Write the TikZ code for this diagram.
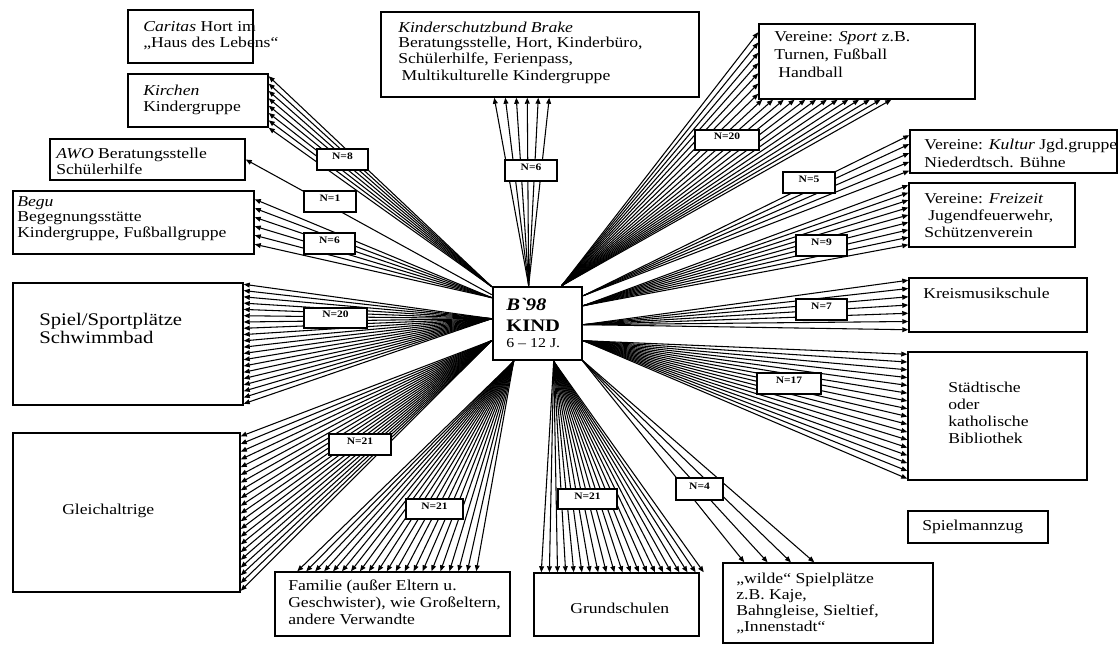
\documentclass[tikz,border=0pt]{standalone}
\usepackage{fontspec}
\setmainfont{Liberation Serif}[FakeStretch=1.17]
\usetikzlibrary{arrows.meta,fit,calc,backgrounds}
\tikzset{
  box/.style={draw, line width=1.1pt, fill=white, inner sep=0pt},
  txt/.style={inner sep=0pt, align=left, anchor=base west, font=\fontsize{11.3}{11.6}\selectfont},
  nlab/.style={draw, line width=1pt, fill=white, inner sep=0pt, font=\bfseries\fontsize{7.4}{8}\selectfont},
  ray/.style={line width=0.8pt, -{Triangle[length=4.5pt,width=3.6pt]}},
}
\newcommand\rayfan[4]{%
  \pgfmathtruncatemacro\fanlast{#4-1}%
  \foreach \i in {0,...,\fanlast}{%
    \pgfmathsetmacro\fant{\i/\fanlast}%
    \draw[ray] (#1) -- ($(#2)!\fant!(#3)$);
  }%
}
\begin{document}
\begin{tikzpicture}[x=0.75pt,y=-0.75pt]
\useasboundingbox (0,0) rectangle (1119,644);
% boxes
\node[box, fit={(493,287) (582,360)}, line width=2pt] (kind) {};
\node[box, fit={(128,10) (253,63)}] (caritas) {};
\node[box, fit={(128,74) (268,127)}] (kirchen) {};
\node[box, fit={(50,139) (245,180)}] (awo) {};
\node[box, fit={(13,191) (254,254)}] (begu) {};
\node[box, fit={(13,283) (243,405)}] (spiel) {};
\node[box, fit={(13,433) (240,592)}] (gleich) {};
\node[box, fit={(275,572) (510,636)}] (familie) {};
\node[box, fit={(534,573) (699,636)}] (grund) {};
\node[box, fit={(723,563) (933,643)}] (wilde) {};
\node[box, fit={(908,511) (1048,543)}] (spielm) {};
\node[box, fit={(908,352) (1087,480)}] (biblio) {};
\node[box, fit={(909,278) (1087,332)}] (kreis) {};
\node[box, fit={(909,183) (1075,247)}] (freiz) {};
\node[box, fit={(910,130) (1117,173)}] (kultur) {};
\node[box, fit={(759,24) (975,99)}] (sport) {};
\node[box, fit={(381,12) (699,97)}] (ksb) {};
% texts (anchored at the baseline of the last line)
\node[txt] (tcar) at (143,47) {\textit{Caritas} Hort im\\[0.4pt]„Haus des Lebens“};
\node[txt] (tkir) at (143,111) {\textit{Kirchen}\\[0.4pt]Kindergruppe};
\node[txt] (tawo) at (56,174) {\textit{AWO} Beratungsstelle\\Schülerhilfe};
\node[txt] (tbeg) at (17,237) {\textit{Begu}\\Begegnungsstätte\\Kindergruppe, Fußballgruppe};
\node[txt, font=\fontsize{13.3}{12}\selectfont] (tspi) at (39,343) {Spiel/Sportplätze\\Schwimmbad};
\node[txt] (tgle) at (62,514) {Gleichaltrige};
\node[txt] (tksb) at (398,80) {\textit{Kinderschutzbund Brake}\\Beratungsstelle, Hort, Kinderbüro,\\Schülerhilfe, Ferienpass,\\[1pt]\hspace{2.5pt}Multikulturelle Kindergruppe};
\node[txt] (tspo) at (774,77) {Vereine: \textit{Sport} z.B.\\[1.9pt]Turnen, Fußball\\[1.9pt]\hspace{3pt}Handball};
\node[txt] (tkul) at (924,167) {Vereine: \textit{Kultur} Jgd.gruppe\\[1.9pt]Niederdtsch. Bühne};
\node[txt] (tfre) at (924,237) {Vereine: \textit{Freizeit}\\[1.1pt]\hspace{3pt}Jugendfeuerwehr,\\[1.1pt]Schützenverein};
\node[txt] (tkre) at (923,298) {Kreismusikschule};
\node[txt] (tbib) at (948,443) {Städtische\\[1.1pt]oder\\[1.1pt]katholische\\[1.1pt]Bibliothek};
\node[txt] (tspm) at (922,530) {Spielmannzug};
\node[txt] (twil) at (736,631) {„wilde“ Spielplätze\\[0.4pt]z.B. Kaje,\\[0.4pt]Bahngleise, Sieltief,\\[0.4pt]„Innenstadt“};
\node[txt] (tfam) at (288,624) {Familie (außer Eltern u.\\[0.8pt]Geschwister), wie Großeltern,\\[0.8pt]andere Verwandte};
\node[txt] (tgru) at (570,613) {Grundschulen};
\node[txt, font=\bfseries\itshape\fontsize{13.2}{14}\selectfont] (tb98) at (506,310) {B\textasciigrave 98};
\node[txt, font=\bfseries\fontsize{13.2}{14}\selectfont] (tkind) at (506,331) {KIND};
\node[txt, font=\fontsize{10.2}{11}\selectfont] (tage) at (506,347) {6 – 12 J.};
% N labels
\node[nlab, fit={(317,149) (368,170)}] (n8) {N=8};
\node[nlab, fit={(304,191) (356,212)}] (n1) {N=1};
\node[nlab, fit={(304,233) (355,254)}] (n6b) {N=6};
\node[nlab, fit={(304,308) (367,328)}] (n20s) {N=20};
\node[nlab, fit={(505,160) (557,181)}] (n6k) {N=6};
\node[nlab, fit={(695,130) (759,150)}] (n20p) {N=20};
\node[nlab, fit={(783,172) (835,193)}] (n5) {N=5};
\node[nlab, fit={(796,235) (847,256)}] (n9) {N=9};
\node[nlab, fit={(796,299) (847,320)}] (n7) {N=7};
\node[nlab, fit={(757,373) (821,394)}] (n17) {N=17};
\node[nlab, fit={(329,434) (391,455)}] (n21g) {N=21};
\node[nlab, fit={(406,499) (463,519)}] (n21f) {N=21};
\node[nlab, fit={(558,489) (617,509)}] (n21s) {N=21};
\node[nlab, fit={(676,478) (723,500)}] (n4) {N=4};
% start points on the central box
\coordinate (sKir) at ($(kind.north west)+(0,1)$);
\coordinate (sAwo) at ($(kind.north west)+(0,9)$);
\coordinate (sBeg) at ($(kind.north west)+(0,12)$);
\coordinate (sSpi) at ($(kind.north west)+(0,33)$);
\coordinate (sGle) at ($(kind.north west)+(0,55)$);
\coordinate (sFam) at ($(kind.south west)+(22,0)$);
\coordinate (sGru) at ($(kind.south west)+(62,0)$);
\coordinate (sWil) at ($(kind.south east)+(-2,-2)$);
\coordinate (sBib) at ($(kind.north east)+(0,55)$);
\coordinate (sKre) at ($(kind.north east)+(0,39)$);
\coordinate (sFre) at ($(kind.north east)+(0,20)$);
\coordinate (sKul) at ($(kind.north east)+(0,10)$);
\coordinate (sSpo) at ($(kind.north west)+(70,0)$);
\coordinate (sKsb) at ($(kind.north west)+(37,0)$);
% end ranges on the target boxes
\coordinate (kirA) at ($(kirchen.north east)+(0,3)$);
\coordinate (kirB) at (kirchen.south east);
\coordinate (begA) at ($(begu.north east)+(0,9)$);
\coordinate (begB) at ($(begu.north east)+(0,54)$);
\coordinate (spiA) at ($(spiel.north east)+(0,2)$);
\coordinate (spiB) at ($(spiel.south east)+(0,-2)$);
\coordinate (gleA) at ($(gleich.north east)+(0,4)$);
\coordinate (gleB) at ($(gleich.south east)+(0,-2)$);
\coordinate (famA) at ($(familie.north west)+(23,0)$);
\coordinate (famB) at ($(familie.north west)+(202,0)$);
\coordinate (gruA) at ($(grund.north west)+(8,0)$);
\coordinate (gruB) at ($(grund.north east)+(4,0)$);
\coordinate (wilA) at ($(wilde.north west)+(22,0)$);
\coordinate (wilB) at ($(wilde.north west)+(92,0)$);
\coordinate (bibA) at ($(biblio.north west)+(0,3)$);
\coordinate (bibB) at ($(biblio.south west)+(0,-2)$);
\coordinate (kreA) at ($(kreis.north west)+(0,3)$);
\coordinate (kreB) at ($(kreis.south west)+(0,-3)$);
\coordinate (freA) at ($(freiz.north west)+(0,3)$);
\coordinate (freB) at ($(freiz.south west)+(0,-3)$);
\coordinate (kulA) at ($(kultur.north west)+(0,6)$);
\coordinate (kulB) at ($(kultur.south west)+(0,-3)$);
\coordinate (spoA) at ($(sport.north west)+(0,9)$);
\coordinate (spoB) at ($(sport.south west)+(0,-6)$);
\coordinate (spoC) at ($(sport.south west)+(4,0)$);
\coordinate (spoD) at ($(sport.south west)+(133,0)$);
\coordinate (ksbA) at ($(ksb.south west)+(114,0)$);
\coordinate (ksbB) at ($(ksb.south west)+(169,0)$);
\begin{scope}[on background layer]
  \rayfan{sKir}{kirA}{kirB}{8}
  \draw[ray] (sAwo) -- (awo.east);
  \rayfan{sBeg}{begA}{begB}{6}
  \rayfan{sSpi}{spiA}{spiB}{20}
  \rayfan{sGle}{gleA}{gleB}{21}
  \rayfan{sFam}{famA}{famB}{21}
  \rayfan{sGru}{gruA}{gruB}{21}
  \rayfan{sWil}{wilA}{wilB}{4}
  \rayfan{sBib}{bibA}{bibB}{17}
  \rayfan{sKre}{kreA}{kreB}{7}
  \rayfan{sFre}{freA}{freB}{9}
  \rayfan{sKul}{kulA}{kulB}{5}
  \rayfan{sSpo}{spoA}{spoB}{7}
  \rayfan{sSpo}{spoC}{spoD}{13}
  \rayfan{sKsb}{ksbA}{ksbB}{6}
\end{scope}
\end{tikzpicture}
\end{document}
